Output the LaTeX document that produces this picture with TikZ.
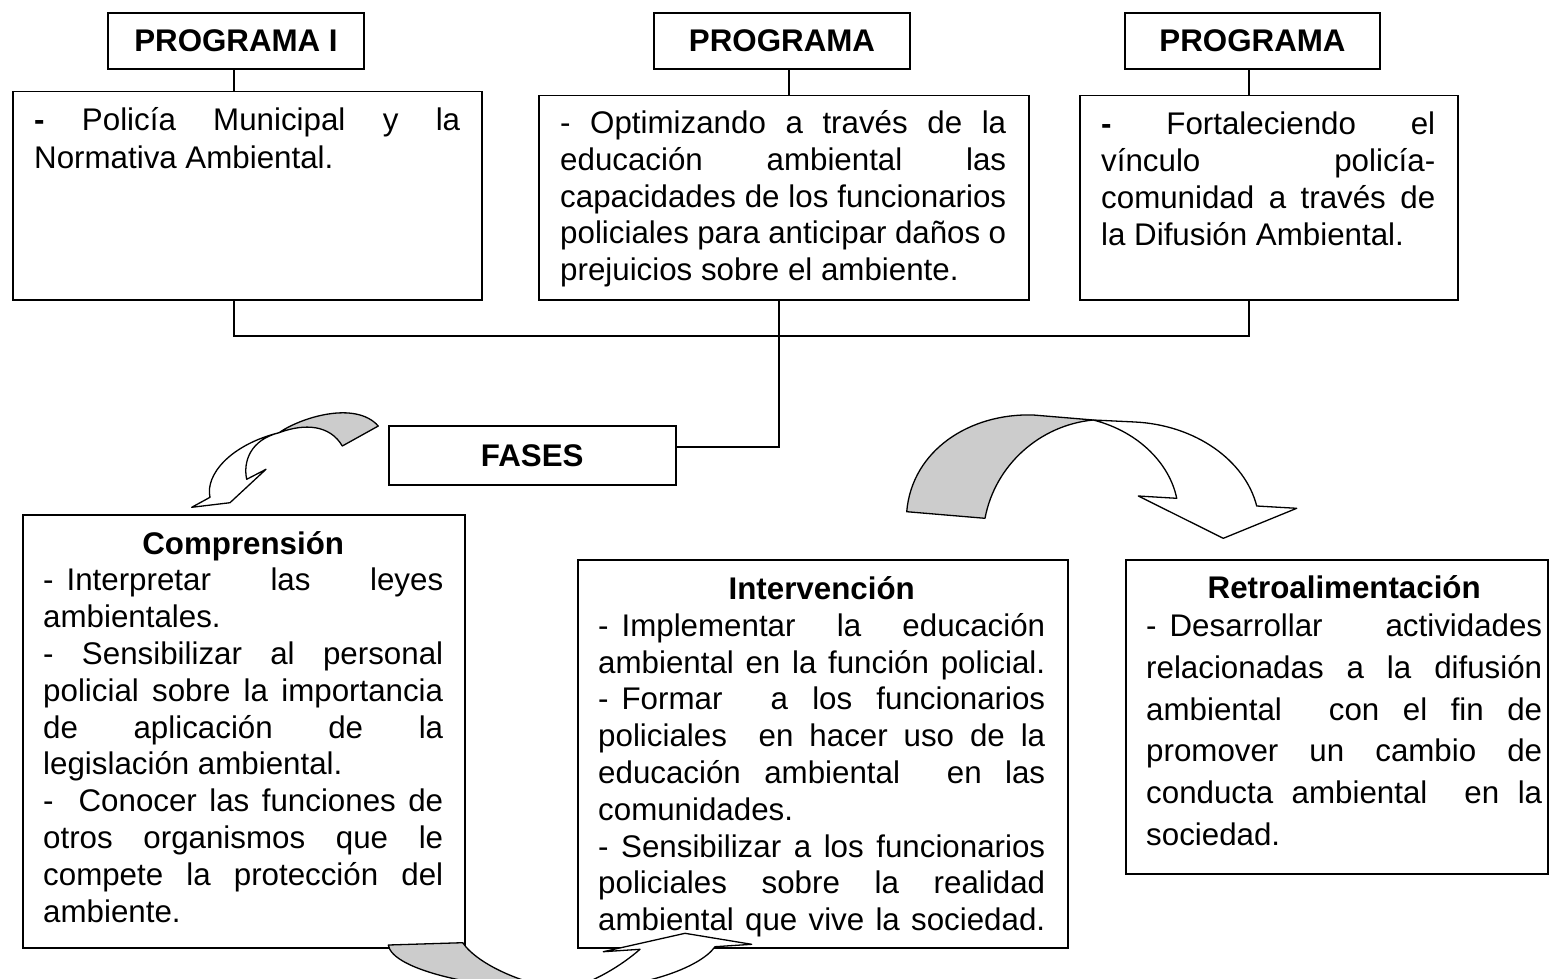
\documentclass[tikz,border=0pt]{standalone}
\usepackage{fontspec}
\setmainfont{Liberation Sans}
\definecolor{ribbon}{RGB}{204,204,204}
\newcommand\jl[1]{\makebox[\linewidth][s]{#1}}
\newcommand\ttl[1]{\makebox[\linewidth][c]{\bfseries #1}}
\newcommand\fsp{\hspace{13pt}}
\newcommand\txtbox[3]{\parbox[t]{#1}{\fontsize{31.3}{#2}\selectfont #3}}
\tikzset{
  box/.style={draw, line width=1.5pt, inner sep=0pt},
  lbl/.style={box, font=\fontsize{31.3}{36}\selectfont\bfseries},
  txt/.style={inner sep=0pt, anchor=base west},
  link/.style={line width=1.5pt},
  ribbonback/.style={draw, line width=1.3pt, fill=ribbon, line join=round},
  ribbonfront/.style={draw, line width=1.3pt, fill=white, line join=round}
}
\begin{document}
\begin{tikzpicture}[x=1pt,y=-1pt]
\useasboundingbox (0,0) rectangle (1549,979);
% title boxes
\node[lbl, minimum width=256pt, minimum height=56pt] (t1) at (236,41) {PROGRAMA I};
\node[lbl, minimum width=256pt, minimum height=56pt] (t2) at (782,41) {PROGRAMA};
\node[lbl, minimum width=255pt, minimum height=56pt] (t3) at (1252.5,41) {PROGRAMA};
% content boxes
\node[box, minimum width=469pt, minimum height=208pt, anchor=north west] (b1) at (12,91) {};
\node[box, minimum width=490pt, minimum height=204pt, anchor=north west] (b2) at (538,95) {};
\node[box, minimum width=378pt, minimum height=204pt, anchor=north west] (b3) at (1079,95) {};
\node[lbl, minimum width=287pt, minimum height=59pt, anchor=north west] (fases) at (388,425) {FASES};
\node[box, minimum width=442pt, minimum height=433pt, anchor=north west] (c1) at (22,514) {};
\node[box, minimum width=490pt, minimum height=388pt, anchor=north west] (c2) at (577,559) {};
\node[box, minimum width=422pt, minimum height=314pt, anchor=north west] (c3) at (1125,559) {};
% texts
\node[txt] (b1t) at (34,130.7) {\txtbox{426pt}{37.6pt}{\jl{\textbf{-} Policía Municipal y la}\\Normativa Ambiental.}};
\node[txt] (b2t) at (560,134) {\txtbox{446pt}{36.6pt}{\jl{- Optimizando a través de la}\\\jl{educación ambiental las}\\\jl{capacidades de los funcionarios}\\\jl{policiales para anticipar daños o}\\prejuicios sobre el ambiente.}};
\node[txt] (b3t) at (1101,135) {\txtbox{334pt}{36.7pt}{\jl{\textbf{-} Fortaleciendo el}\\\jl{vínculo policía-}\\\jl{comunidad a través de}\\la Difusión Ambiental.}};
\node[txt] (c1t) at (43,554) {\txtbox{400pt}{36.8pt}{\ttl{Comprensión}\\\jl{-\fsp Interpretar las leyes}\\ambientales.\\\jl{- Sensibilizar al personal}\\\jl{policial sobre la importancia}\\\jl{de aplicación de la}\\legislación ambiental.\\\jl{-\ \ Conocer las funciones de}\\\jl{otros organismos que le}\\\jl{compete la protección del}\\ambiente.}};
\node[txt] (c2t) at (598,599.5) {\txtbox{447pt}{36.8pt}{\ttl{Intervención}\\\jl{-\fsp Implementar la educación}\\\jl{ambiental en la función policial.}\\\jl{-\fsp Formar\ \ a los funcionarios}\\\jl{policiales\ \ en hacer uso de la}\\\jl{educación ambiental\ \ en las}\\comunidades.\\\jl{- Sensibilizar a los funcionarios}\\\jl{policiales sobre la realidad}\\\jl{ambiental que vive la sociedad.}}};
\node[txt] (c3t) at (1146,598) {\txtbox{396pt}{41.7pt}{\ttl{Retroalimentación}\\[-3pt]\jl{-\fsp Desarrollar actividades}\\\jl{relacionadas a la difusión}\\\jl{ambiental\ \ con el fin de}\\\jl{promover un cambio de}\\\jl{conducta ambiental\ \ en la}\\sociedad.}};
% connectors
\coordinate (busL) at (234,336);
\coordinate (busR) at (1249,336);
\coordinate (fj) at (779,447);
\draw[link] (t1.south -| busL) -- (b1.north -| busL);
\draw[link] ([xshift=7pt]t2.south) -- ([xshift=7pt]t2.south |- b2.north);
\draw[link] (t3.south -| busR) -- (b3.north -| busR);
\draw[link] (b1.south -| busL) -- (busL) -- (busR) -- (b3.south -| busR);
\draw[link] (b2.south -| fj) -- (fj) -- (fj -| fases.east);
% curved arrow 1
\draw[ribbonback] (279,432.7) .. controls (300,418) and (355,400) .. (378.3,426) -- (342.3,446) .. controls (330,425) and (305,423) .. (279,432.7) -- cycle;
\draw[ribbonfront] (279,432.7) .. controls (230,445) and (205,475) .. (210,497.3) -- (191.7,507.3) -- (230,502.7) -- (266,469.3) -- (246.7,479.3) .. controls (243,462) and (250,440) .. (279,432.7) -- cycle;
% curved arrow 2
\draw[ribbonback] (906.7,511.7) .. controls (912,450) and (970,413) .. (1033.3,415) -- (1093.3,420) .. controls (1040,425) and (995,465) .. (985,518.3) -- cycle;
\draw[ribbonfront] (1093.3,420) -- (1135,422) .. controls (1195,425) and (1245,460) .. (1256.7,506) -- (1296.7,508.3) -- (1223.3,538.3) -- (1138.3,496) -- (1176.7,498.3) .. controls (1170,465) and (1140,432) .. (1093.3,420) -- cycle;
% curved arrow 3
\draw[ribbonback] (388.3,945) -- (462.7,942.7) .. controls (478,965) and (525,985) .. (565,990) .. controls (480,990) and (392,970) .. (388.3,945) -- cycle;
\draw[ribbonfront] (565,990) .. controls (640,990) and (700,968) .. (715,946.7) -- (751.7,944.3) -- (685,933.3) -- (603.3,951.7) -- (640,949.3) .. controls (622,965) and (595,982) .. (565,990) -- cycle;
\end{tikzpicture}
\end{document}
